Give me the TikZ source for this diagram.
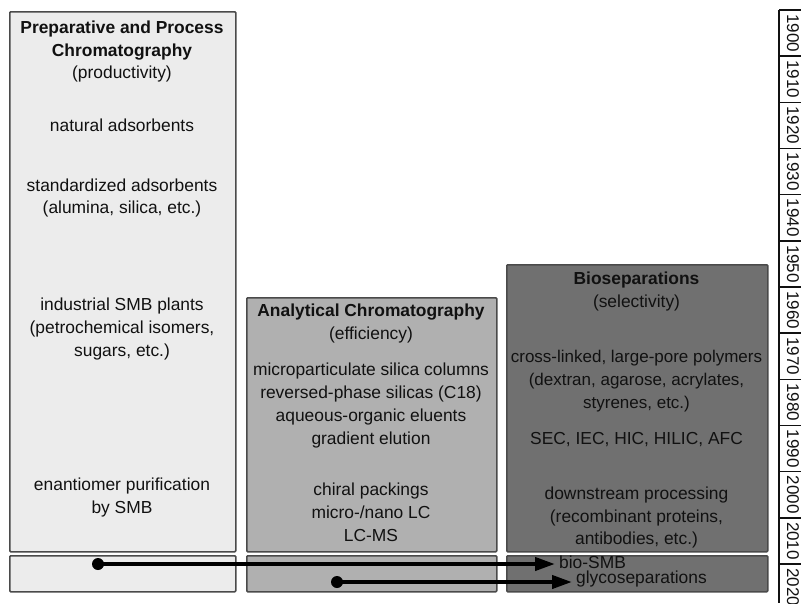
\documentclass[tikz,border=0pt]{standalone}
\usepackage{fontspec}
\setmainfont{Liberation Sans}
\usetikzlibrary{arrows.meta}
\definecolor{fillA}{HTML}{ECECEC}
\definecolor{fillB}{HTML}{B0B0B0}
\definecolor{fillC}{HTML}{707070}
\definecolor{edge}{HTML}{4A4A4A}
\definecolor{ink}{HTML}{111111}
\tikzset{
  panel/.style={draw=edge, line width=1.5pt, rounded corners=1pt, anchor=north west, inner sep=0pt},
  txt/.style={font=\fontsize{17.4}{22.8}\selectfont, align=center, text=ink, inner sep=0pt},
  yr/.style={font=\fontsize{17}{20}\selectfont, rotate=-90, inner sep=0pt, text=ink},
  dot/.style={circle, fill=black, inner sep=0pt, minimum size=12pt},
  lbl/.style={font=\fontsize{17.4}{20}\selectfont, text=ink, anchor=west, inner xsep=4pt, inner ysep=0pt},
  arr/.style={line width=4pt, -{Triangle[length=20pt,width=13pt]}},
  axis/.style={line width=1.8pt, draw=ink},
  tick/.style={line width=1.4pt, draw=ink}
}
\begin{document}
\begin{tikzpicture}[x=1pt,y=-1pt]
\useasboundingbox (0,0) rectangle (801,603);
% panels
\node[panel, fill=fillA, minimum width=226pt, minimum height=540pt] (p1) at (9,11) {};
\node[panel, fill=fillA, minimum width=226pt, minimum height=36pt] (s1) at (9,555) {};
\node[panel, fill=fillB, minimum width=250pt, minimum height=254pt] (p2) at (246,297) {};
\node[panel, fill=fillB, minimum width=250pt, minimum height=36pt] (s2) at (246,555) {};
\node[panel, fill=fillC, minimum width=261pt, minimum height=287pt] (p3) at (506,264) {};
\node[panel, fill=fillC, minimum width=261pt, minimum height=36pt] (s3) at (506,555) {};
% panel 1 texts
\node[txt] (t11) at (122,51.5) {\textbf{Preparative and Process}\\\textbf{Chromatography}\\(productivity)};
\node[txt] (t12) at (122,125) {natural adsorbents};
\node[txt] (t13) at (122,198) {standardized adsorbents\\(alumina, silica, etc.)};
\node[txt] (t14) at (122,329) {industrial SMB plants\\(petrochemical isomers,\\sugars, etc.)};
\node[txt] (t15) at (122,497.5) {enantiomer purification\\by SMB};
% panel 2 texts
\node[txt] (t21) at (371,323.5) {\textbf{Analytical Chromatography}\\(efficiency)};
\node[txt] (t22) at (371,405.5) {microparticulate silica columns\\reversed-phase silicas (C18)\\aqueous-organic eluents\\gradient elution};
\node[txt] (t23) at (371,512.5) {chiral packings\\micro-/nano LC\\LC-MS};
% panel 3 texts
\node[txt] (t31) at (636.5,291.5) {\textbf{Bioseparations}\\(selectivity)};
\node[txt, font=\fontsize{17}{22.8}\selectfont] (t32) at (636.5,381) {cross-linked, large-pore polymers\\(dextran, agarose, acrylates,\\styrenes, etc.)};
\node[txt] (t33) at (636.5,440) {SEC, IEC, HIC, HILIC, AFC};
\node[txt] (t34) at (636.5,517.5) {downstream processing\\(recombinant proteins,\\antibodies, etc.)};
% bottom strip arrows
\node[lbl] (l1) at (555,562.5) {bio-SMB};
\node[lbl] (l2) at (572,578.5) {glycoseparations};
\node[dot] (d1) at (98,564) {};
\node[dot] (d2) at (337,582) {};
\draw[arr] (d1.center) -- (d1.center -| l1.west);
\draw[arr] (d2.center) -- (d2.center -| l2.west);
% timeline
\coordinate (ax0) at (779,10);
\coordinate (ax1) at (779,603);
\draw[axis] (ax0) -- (ax1);
\foreach \k in {0,...,12}
  \draw[tick] (779,{10+46.1667*\k}) -- (801,{10+46.1667*\k});
\foreach \k in {0,...,12}{
  \pgfmathtruncatemacro{\yr}{1900+10*\k}
  \node[yr] (y\yr) at (793,{10+46.1667*(\k+0.5)}) {\yr};
}
\end{tikzpicture}
\end{document}
